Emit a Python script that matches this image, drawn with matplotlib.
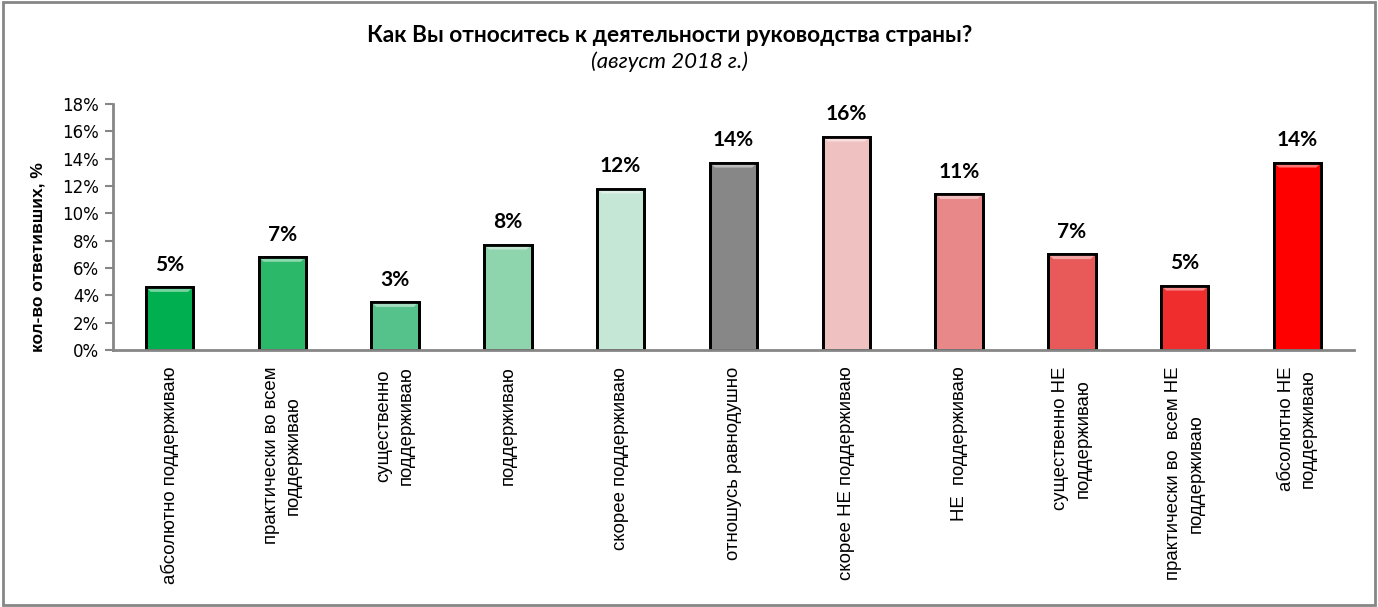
import matplotlib.pyplot as plt
from matplotlib.colors import to_rgb
from matplotlib.patches import Polygon, Rectangle
from matplotlib.ticker import FuncFormatter, MultipleLocator

categories = [
    "абсолютно поддерживаю",
    "практически во всем\nподдерживаю",
    "существенно\nподдерживаю",
    "поддерживаю",
    "скорее поддерживаю",
    "отношусь равнодушно",
    "скорее НЕ поддерживаю",
    "НЕ  поддерживаю",
    "существенно НЕ\nподдерживаю",
    "практически во  всем НЕ\nподдерживаю",
    "абсолютно НЕ\nподдерживаю",
]
values = [4.6, 6.8, 3.5, 7.7, 11.8, 13.7, 15.6, 11.4, 7.0, 4.7, 13.7]
labels = ["5%", "7%", "3%", "8%", "12%", "14%", "16%", "11%", "7%", "5%", "14%"]
colors = ["#00B050", "#2BB869", "#55C28B", "#8ED4AD", "#C5E7D6", "#878787",
          "#F0C1C1", "#E98888", "#E85A5A", "#F02D2D", "#FF0000"]

plt.rcParams['font.family'] = ['Liberation Sans', 'DejaVu Sans']
calibri = ["Lato", "DejaVu Sans"]

fig = plt.figure(figsize=(13.78, 6.07), dpi=100)
ax = fig.add_axes([0.082, 0.4234, 0.9006, 0.4053])

x = range(len(values))
bars = ax.bar(x, values, width=0.42, color=colors, edgecolor="black", linewidth=2,
              zorder=2)

# light bevel along the top of each bar, like the Excel style
for rect, c in zip(bars, colors):
    x0, x1 = rect.get_x(), rect.get_x() + rect.get_width()
    h = rect.get_height()
    light = tuple(0.55 * v + 0.45 for v in to_rgb(c))
    ax.add_patch(Polygon([(x0, h), (x1, h), (x1 - 0.045, h - 0.35), (x0 + 0.045, h - 0.35)],
                         closed=True, facecolor=light, edgecolor="none", zorder=2.5))
    ax.add_patch(Rectangle((x0, 0), rect.get_width(), h, fill=False,
                           edgecolor="black", linewidth=2, zorder=3))

for rect, lab in zip(bars, labels):
    ax.annotate(lab, (rect.get_x() + rect.get_width() / 2, rect.get_height()),
                xytext=(0, 9), textcoords="offset points", ha="center", va="bottom",
                fontsize=15, fontweight="bold", family=calibri)

ax.set_xlim(-0.5, len(values) - 0.5)
ax.set_ylim(0, 18)
ax.yaxis.set_major_locator(MultipleLocator(2))
ax.yaxis.set_major_formatter(FuncFormatter(lambda v, p: f"{v:.0f}%"))
ax.set_xticks(list(x))
ax.set_xticklabels(categories, rotation=90, fontsize=13.4, ha="center", va="top",
                   linespacing=1.4)
ax.tick_params(axis="x", length=0, pad=12)
ax.tick_params(axis="y", length=6, width=1.5, color="#868686", labelsize=12, pad=4)
for t in ax.get_yticklabels():
    t.set_family(["DejaVu Sans"])

for s in ["top", "right"]:
    ax.spines[s].set_visible(False)
for s in ["left", "bottom"]:
    ax.spines[s].set_color("#868686")
    ax.spines[s].set_linewidth(2)
    ax.spines[s].set_zorder(4)

ax.set_ylabel("кол-во ответивших, %", fontsize=12.5, fontweight="bold")
ax.yaxis.set_label_coords(-0.054, 0.378)

fig.text(0.486, 0.942, "Как Вы относитесь к деятельности руководства страны?",
         ha="center", va="center", fontsize=16.3, fontweight="bold", family=calibri)
fig.text(0.486, 0.898, "(август 2018 г.)", ha="center", va="center",
         fontsize=16, fontstyle="italic", family=calibri)

fig.patches.append(Rectangle((0.002, 0.004), 0.996, 0.992, transform=fig.transFigure,
                             fill=False, edgecolor="#868686", linewidth=2))

fig.savefig("out.png", dpi=100)
